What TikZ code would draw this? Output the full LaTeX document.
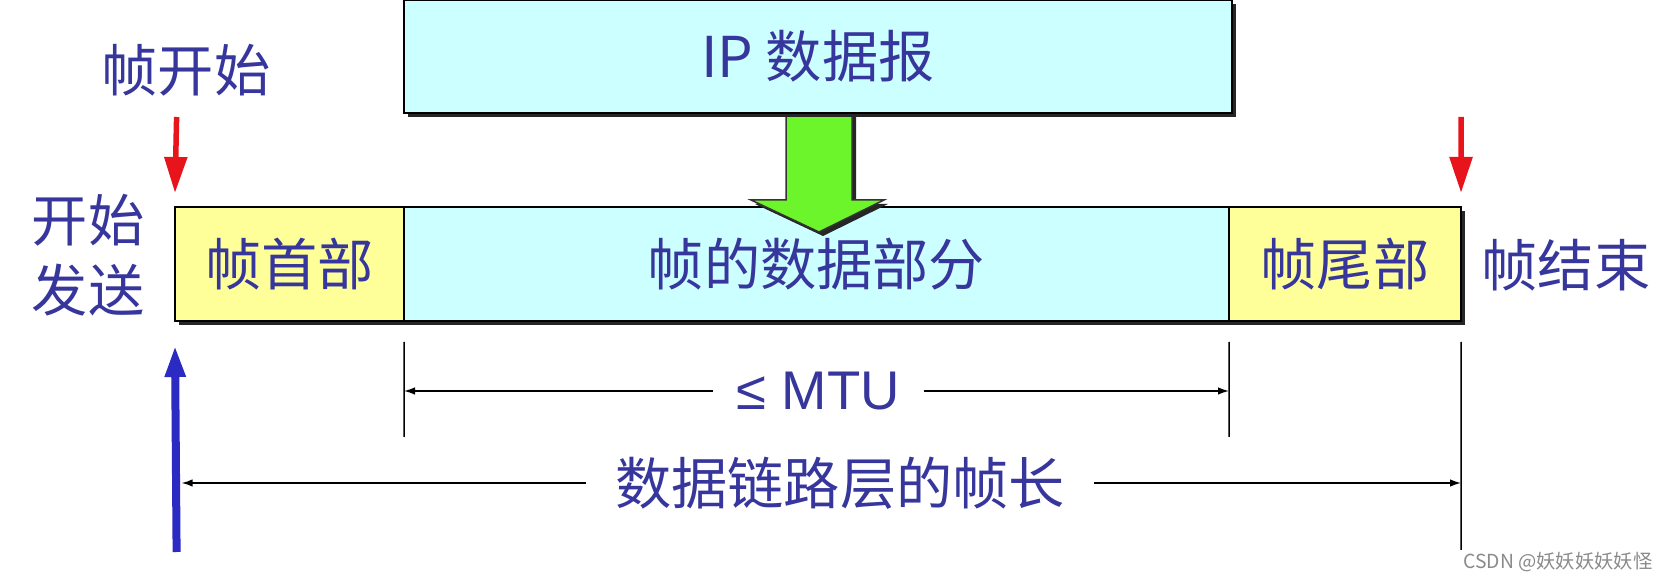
\documentclass[tikz,border=0pt]{standalone}
\usepackage{fontspec}
\setmainfont{Noto Sans CJK SC}
\newfontfamily\frameLatin{Liberation Sans}
\usepackage{tikz}
\usetikzlibrary{arrows.meta,shadows}
\definecolor{frameInk}{HTML}{36369C}
\definecolor{frameCyan}{HTML}{CCFFFF}
\definecolor{frameYellow}{HTML}{FFFF99}
\definecolor{frameGreen}{HTML}{6CF52A}
\definecolor{frameRed}{HTML}{E8141B}
\definecolor{frameBlue}{HTML}{2B2BC4}
\definecolor{frameMark}{HTML}{8A8A8A}
\newcommand{\frameFont}{\fontsize{32}{40}\selectfont}
\newcommand{\frameSmallFont}{\frameLatin\fontsize{31}{36}\selectfont}
\tikzset{
  frameShadow/.style={
    drop shadow={shadow xshift=0.8mm, shadow yshift=-0.8mm,
      fill=black!85, opacity=1}
  },
  frameBox/.style={
    draw=black,
    line width=0.3mm,
    inner sep=0pt,
    outer sep=0pt,
    minimum height=22.8mm,
    text=frameInk,
    font=\frameFont,
    frameShadow
  },
  frameData/.style={frameBox, fill=frameCyan},
  frameEnd/.style={frameBox, fill=frameYellow},
  frameLabel/.style={
    text=frameInk,
    font=\frameFont,
    align=center,
    inner sep=0pt
  },
  frameMarker/.style={
    -{Triangle[length=7.2mm,width=4.4mm]},
    draw=frameRed,
    line width=1.1mm
  },
  frameSend/.style={
    -{Triangle[length=6.4mm,width=3.8mm]},
    draw=frameBlue,
    line width=1.6mm
  },
  frameExt/.style={draw=black, line width=0.3mm},
  frameDim/.style={
    -{Latex[length=2.2mm,width=1.5mm]},
    draw=black,
    line width=0.3mm
  }
}

\begin{document}
\begin{tikzpicture}[x=0.2mm, y=-0.2mm]
\useasboundingbox (0,0) rectangle (1669,580);

% the frame
\node[frameEnd, minimum width=45.8mm] (head) at (289.5,264) {帧首部};
\node[frameData, minimum width=165mm, anchor=west] (data) at (head.east)
  {帧的数据部分};
\node[frameEnd, minimum width=46.4mm, anchor=west] (tail) at (data.east)
  {帧尾部};

% green block arrow, then the datagram above it
\draw[draw=black!80, line width=0.3mm, fill=frameGreen, frameShadow]
  (818,113) ++(-32,0) -- ++(66,0) -- ++(0,87) -- ++(32,0) -- ++(-65,32)
  -- ++(-68,-32) -- ++(35,0) -- cycle;
\node[frameData, minimum width=165.6mm, minimum height=22.6mm] (ip)
  at (818,56.5) {IP 数据报};

\node[frameLabel] (startLbl) at (186,70) {帧开始};
\node[frameLabel] (sendLbl) at (88,255) {开始\\发送};
\node[frameLabel] (endLbl) at (1566,265) {帧结束};

\coordinate (startTop) at (176.6,117);
\coordinate (endTop) at (1461,117);
\coordinate (sendFoot) at (176.6,552);
\draw[frameMarker] (startTop) -- ([yshift=2.8mm]head.north west);
\draw[frameMarker] (endTop) -- ([yshift=2.8mm]tail.north east);
\draw[frameSend] (sendFoot) -- ([yshift=-4.8mm]head.south west);

% dimensions
\coordinate (mtuLeftFoot) at (404,437);
\coordinate (mtuRightFoot) at (1229,437);
\coordinate (lenRightFoot) at (1461,550);
\draw[frameExt] ([yshift=-4.2mm]data.south west) -- (mtuLeftFoot);
\draw[frameExt] ([yshift=-4.2mm]data.south east) -- (mtuRightFoot);
\draw[frameExt] ([yshift=-4.2mm]tail.south east) -- (lenRightFoot);

\node[frameLabel, font=\frameSmallFont, inner xsep=4.7mm] (mtu)
  at (818.5,391) {≤ MTU};
\draw[frameDim] (mtu.west) -- (mtu.west -| mtuLeftFoot);
\draw[frameDim] (mtu.east) -- (mtu.east -| mtuRightFoot);

\node[frameLabel, inner xsep=5.7mm] (frameLen) at (840,483)
  {数据链路层的帧长};
\draw[frameDim] (frameLen.west) -- ([xshift=1mm]frameLen.west -| sendFoot);
\draw[frameDim] (frameLen.east) -- (frameLen.east -| lenRightFoot);

\node[text=frameMark, font=\fontsize{11}{13}\selectfont, inner sep=0pt]
  (mark) at (1558,562) {CSDN @妖妖妖妖妖怪};
\end{tikzpicture}
\end{document}
